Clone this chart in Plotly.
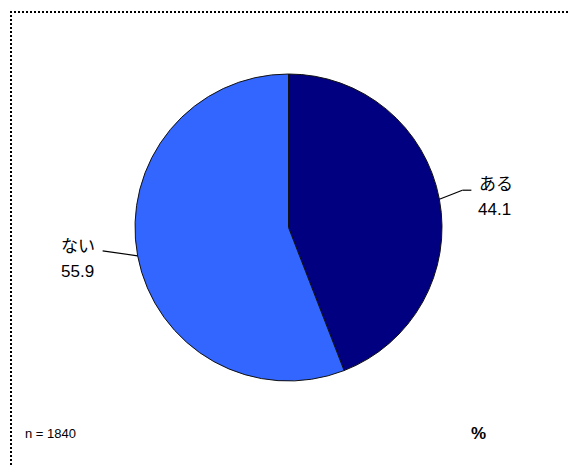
import math
import plotly.graph_objects as go

labels = ["ある", "ない"]
values = [44.1, 55.9]
colors = ["#000080", "#3366FF"]
n_text = "n = 1840"
unit_text = "%"

W, H = 570, 466
cx, cy, r = 288.5, 227.5, 153.5

def px(x):
    return x / W

def py(y):
    return 1 - y / H

fig = go.Figure(go.Pie(
    labels=labels, values=values, sort=False, direction="clockwise", rotation=0,
    marker=dict(colors=colors, line=dict(color="#111111", width=1)),
    textinfo="none", hoverinfo="label+value", showlegend=False,
    domain=dict(x=[px(cx - r), px(cx + r)], y=[py(cy + r), py(cy - r)]),
))

total = sum(values)
start = 0.0
font = "Arial, 'Liberation Sans', 'Noto Sans CJK JP'"
shapes = []
annotations = []
for lab, v in zip(labels, values):
    mid = (start + v / 2) / total * 2 * math.pi
    start += v
    ex = cx + r * math.sin(mid)
    ey = cy - r * math.cos(mid)
    if math.sin(mid) > 0:
        kx, ky = ex + 23, ey - 9
        hx = kx + 9
        tx = hx + 6
        shapes.append(dict(type="line", xref="paper", yref="paper", x0=px(ex), y0=py(ey), x1=px(kx), y1=py(ky), line=dict(color="black", width=1.2)))
        shapes.append(dict(type="line", xref="paper", yref="paper", x0=px(kx), y0=py(ky), x1=px(hx), y1=py(ky), line=dict(color="black", width=1.2)))
        annotations.append(dict(x=px(tx), y=py(ky - 6), xref="paper", yref="paper", text=lab, showarrow=False, xanchor="left", yanchor="middle", font=dict(size=17, color="black", family=font)))
        annotations.append(dict(x=px(tx - 1), y=py(ky + 19), xref="paper", yref="paper", text=f"{v}", showarrow=False, xanchor="left", yanchor="middle", font=dict(size=17, color="black", family=font)))
    else:
        kx, ky = ex - 35, ey - 5
        shapes.append(dict(type="line", xref="paper", yref="paper", x0=px(ex), y0=py(ey), x1=px(kx), y1=py(ky), line=dict(color="black", width=1.2)))
        annotations.append(dict(x=px(59), y=py(ky - 4), xref="paper", yref="paper", text=lab, showarrow=False, xanchor="left", yanchor="middle", font=dict(size=17, color="black", family=font)))
        annotations.append(dict(x=px(59), y=py(ky + 21), xref="paper", yref="paper", text=f"{v}", showarrow=False, xanchor="left", yanchor="middle", font=dict(size=17, color="black", family=font)))

annotations.append(dict(x=px(23), y=py(433), xref="paper", yref="paper", text=n_text, showarrow=False, xanchor="left", yanchor="middle", font=dict(size=13, color="black", family=font)))
annotations.append(dict(x=px(479), y=py(433), xref="paper", yref="paper", text=f"<b>{unit_text}</b>", showarrow=False, xanchor="center", yanchor="middle", font=dict(size=17, color="black", family=font)))

shapes.append(dict(type="line", xref="paper", yref="paper", x0=px(10), y0=py(12), x1=px(572), y1=py(12), line=dict(color="black", width=2, dash="2px,2px")))
shapes.append(dict(type="line", xref="paper", yref="paper", x0=px(11), y0=py(11), x1=px(11), y1=py(470), line=dict(color="black", width=2, dash="2px,2px")))

fig.update_layout(
    width=W, height=H, margin=dict(l=0, r=0, t=0, b=0),
    paper_bgcolor="white", plot_bgcolor="white",
    shapes=shapes, annotations=annotations,
)
fig.write_html("out.html")
